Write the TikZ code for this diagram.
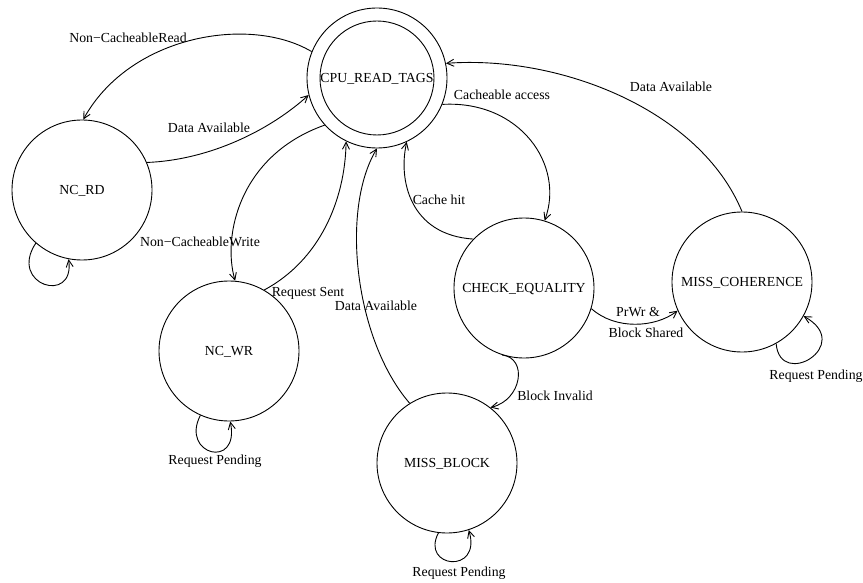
\documentclass[tikz,border=0pt]{standalone}
\usepackage{fontspec}
\setmainfont{Liberation Serif}
\usetikzlibrary{arrows.meta}
\begin{document}
\begin{tikzpicture}[x=1pt,y=-1pt,
  font=\fontsize{13.8}{16}\selectfont,
  state/.style={circle,draw,line width=0.9pt,minimum size=140pt,inner sep=0pt,text depth=0pt},
  lbl/.style={inner sep=0pt,text height=9.2pt,text depth=0pt},
  tr/.style={line width=0.9pt,-{Straight Barb[length=7pt,width=7pt]}}]

\useasboundingbox (0,0) rectangle (863,583);

% states
\node[state] (cpu)  at (377,78)  {CPU\textunderscore READ\textunderscore TAGS};
\draw[line width=0.9pt] (cpu.center) circle[radius=57];
\node[state] (ncrd) at (82,190)  {NC\textunderscore RD};
\node[state] (ncwr) at (229,351) {NC\textunderscore WR};
\node[state] (chk)  at (524,288) {CHECK\textunderscore EQUALITY};
\node[state] (mcoh) at (742,282) {MISS\textunderscore COHERENCE};
\node[state] (mblk) at (447,463) {MISS\textunderscore BLOCK};

% transitions
\draw[tr] (cpu.158) .. controls (250,15) and (130,35) .. (ncrd.89);
\draw[tr] (ncrd.23) .. controls (210,160) and (270,130) .. (cpu.194);
\draw[tr] (cpu.222) .. controls (240,155) and (222,235) .. (ncwr.85);
\draw[tr] (ncwr.60) .. controls (320,260) and (345,200) .. (cpu.244);
\draw[tr] (mblk.122) .. controls (355,340) and (340,210) .. (cpu.270);
\draw[tr] (cpu.338) .. controls (520,100) and (565,165) .. (chk.73);
\draw[tr] (chk.136) .. controls (410,235) and (398,180) .. (cpu.295);
\draw[tr] (mcoh.90) .. controls (700,110) and (560,55) .. (cpu.12);
\draw[tr] (chk.343) .. controls (615,330) and (655,328) .. (mcoh.204);
\draw[tr] (chk.252) .. controls (528,358) and (522,400) .. (mblk.52);

% self loops
\draw[tr] (ncrd.229) .. controls (8,285) and (75,305) .. (ncrd.259);
\draw[tr] (ncwr.246) .. controls (180,455) and (240,470) .. (ncwr.271);
\draw[tr] (mblk.263) .. controls (420,568) and (482,575) .. (mblk.288);
\draw[tr] (mcoh.299) .. controls (780,390) and (855,345) .. (mcoh.331);

% transition labels
\node[lbl] (tncr)  at (128,38)  {Non−CacheableRead};
\node[lbl] (tda1)  at (209,128) {Data Available};
\node[lbl] (tncw)  at (200,242) {Non−CacheableWrite};
\node[lbl] (trs)   at (308,292) {Request Sent};
\node[lbl] (tda2)  at (376,306) {Data Available};
\node[lbl] (tca)   at (502,95)  {Cacheable access};
\node[lbl] (tch)   at (439,200) {Cache hit};
\node[lbl] (tda3)  at (671,87)  {Data Available};
\node[lbl] (tpw)   at (638,312) {PrWr \&};
\node[lbl] (tbs)   at (646,333) {Block Shared};
\node[lbl] (tbi)   at (555,396) {Block Invalid};
\node[lbl] (trp1)  at (215,460) {Request Pending};
\node[lbl] (trp2)  at (816,375) {Request Pending};
\node[lbl] (trp3)  at (459,572) {Request Pending};
\end{tikzpicture}
\end{document}
